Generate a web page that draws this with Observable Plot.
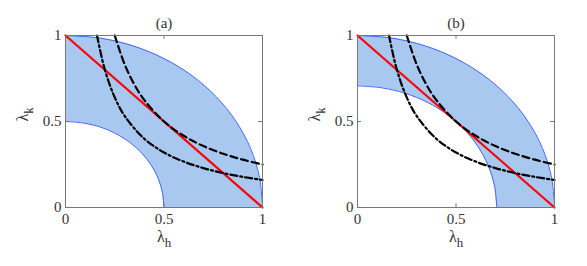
<!DOCTYPE html>
<html>
<head>
<meta charset="utf-8">
<script src="https://cdn.jsdelivr.net/npm/d3@7"></script>
<script src="https://cdn.jsdelivr.net/npm/@observablehq/plot@0.6"></script>
<style>
  body { margin: 0; background: white; }
  #wrap { display: flex; width: 587px; height: 266px; }
  #wrap svg, #wrap svg text { font-family: "Liberation Serif", "Times New Roman", serif !important; }
</style>
</head>
<body>
<div id="wrap"></div>
<script>
// Panel titles
const titles = ["(a)", "(b)"];
// Tick values (both axes)
const tickValues = [0, 0.5, 1];
// Outer boundary (radius 1), sampled every 10 degrees
const outerX = [1, 0.985, 0.94, 0.866, 0.766, 0.643, 0.5, 0.342, 0.174, 0];
const outerY = [0, 0.174, 0.342, 0.5, 0.643, 0.766, 0.866, 0.94, 0.985, 1];
// Inner boundary, panel (a) (radius 0.5)
const innerAX = [0.5, 0.492, 0.47, 0.433, 0.383, 0.321, 0.25, 0.171, 0.087, 0];
const innerAY = [0, 0.087, 0.171, 0.25, 0.321, 0.383, 0.433, 0.47, 0.492, 0.5];
// Inner boundary, panel (b) (radius ~0.707)
const innerBX = [0.707, 0.696, 0.664, 0.612, 0.542, 0.454, 0.354, 0.242, 0.123, 0];
const innerBY = [0, 0.123, 0.242, 0.354, 0.454, 0.542, 0.612, 0.664, 0.696, 0.707];
// Red straight line
const redX = [0, 1];
const redY = [1, 0];
// Dashed curve
const dashX = [0.25, 0.3, 0.35, 0.4, 0.5, 0.6, 0.7, 0.8, 0.9, 1];
const dashY = [1, 0.833, 0.714, 0.625, 0.5, 0.417, 0.357, 0.3125, 0.278, 0.25];
// Dash-dot curve
const dotX = [0.16, 0.2, 0.25, 0.3, 0.4, 0.5, 0.6, 0.7, 0.8, 0.9, 1];
const dotY = [1, 0.8, 0.64, 0.533, 0.4, 0.32, 0.267, 0.229, 0.2, 0.178, 0.16];

const pts = (xs, ys) => xs.map((x, i) => ({x, y: ys[i]}));
const FONT = "'Liberation Serif', 'Times New Roman', serif";

function panel(title, innerX, innerY, ml, mr, w) {
  const outer = pts(outerX, outerY);
  const inner = pts(innerX, innerY);
  const frameColor = "#777";
  const svg = Plot.plot({
    width: w, height: 266,
    marginLeft: ml, marginRight: mr, marginTop: 35, marginBottom: 59,
    x: {domain: [0, 1], label: null},
    y: {domain: [0, 1], label: null},
    style: {fontFamily: FONT, fontSize: "15px", background: "white", color: "#333"},
    marks: [
      Plot.areaY(outer, {x: "x", y: "y", curve: "catmull-rom", fill: "#a8c8f0"}),
      Plot.areaY(inner, {x: "x", y: "y", curve: "catmull-rom", fill: "white"}),
      Plot.line(outer, {x: "x", y: "y", curve: "catmull-rom", stroke: "#4466ee", strokeWidth: 1}),
      Plot.line(inner, {x: "x", y: "y", curve: "catmull-rom", stroke: "#4466ee", strokeWidth: 1}),
      Plot.line(pts(redX, redY), {x: "x", y: "y", stroke: "#ff0000", strokeWidth: 2.2}),
      Plot.line(pts(dashX, dashY), {x: "x", y: "y", curve: "catmull-rom", stroke: "black", strokeWidth: 2.2, strokeDasharray: "7,4"}),
      Plot.line(pts(dotX, dotY), {x: "x", y: "y", curve: "catmull-rom", stroke: "black", strokeWidth: 2.2, strokeDasharray: "7,3,2,3"}),
      Plot.frame({stroke: frameColor}),
      Plot.ruleX(tickValues, {y1: 0, y2: 0.022, stroke: frameColor}),
      Plot.ruleX(tickValues, {y1: 0.978, y2: 1, stroke: frameColor}),
      Plot.ruleY(tickValues, {x1: 0, x2: 0.02, stroke: frameColor}),
      Plot.ruleY(tickValues, {x1: 0.98, x2: 1, stroke: frameColor}),
      Plot.axisX(tickValues, {tickSize: 0, tickPadding: 6, tickFormat: d => String(d), fontSize: 15, fontFamily: FONT}),
      Plot.axisY(tickValues, {tickSize: 0, tickPadding: 4, tickFormat: d => String(d), fontSize: 15, fontFamily: FONT}),
      Plot.text([title], {frameAnchor: "top", dy: -18, fontSize: 15, fontFamily: FONT}),
      Plot.text(["λh"], {frameAnchor: "bottom", dy: 34, lineAnchor: "bottom", fontSize: 16, fontFamily: FONT}),
      Plot.text(["λk"], {frameAnchor: "left", dx: -38, rotate: -90, lineAnchor: "bottom", fontSize: 16, fontFamily: FONT})
    ]
  });
  // subscripts
  d3.select(svg).selectAll("text").each(function() {
    const t = this.textContent;
    if (t === "λh" || t === "λk") {
      const el = d3.select(this);
      el.text("λ");
      el.append("tspan").attr("dy", 5).attr("font-size", 13).text(t.slice(1));
    }
  });
  return svg;
}

const wrap = document.getElementById("wrap");
wrap.appendChild(panel(titles[0], innerAX, innerAY, 65, 31, 293));
wrap.appendChild(panel(titles[1], innerBX, innerBY, 64, 33, 294));
</script>
</body>
</html>
